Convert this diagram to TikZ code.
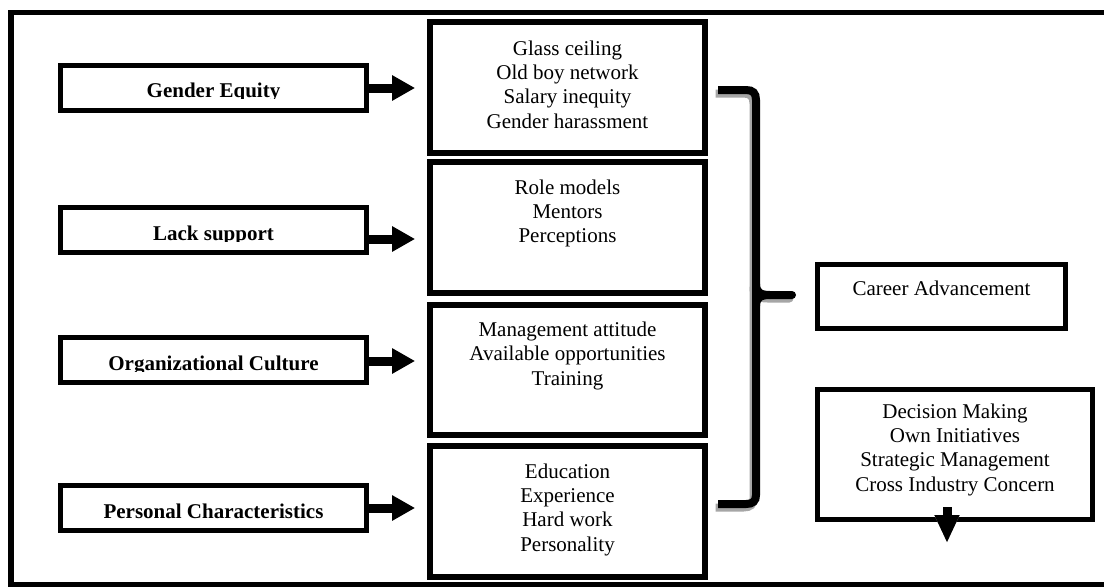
\documentclass[tikz,border=0pt]{standalone}
\usepackage{fontspec}
\setmainfont{Liberation Serif}
\usetikzlibrary{arrows.meta,calc}
\begin{document}
\begin{tikzpicture}[x=1pt,y=-1pt,
  lbox/.style={draw, line width=5pt, minimum width=306pt, minimum height=45pt, inner sep=0pt},
  mbox/.style={draw, line width=6pt, minimum width=275pt, minimum height=131pt, inner sep=0pt},
  rbox/.style={draw, line width=5pt, inner sep=0pt},
  btxt/.style={font=\fontsize{21}{24.3}\selectfont\bfseries, inner sep=0pt, anchor=base},
  txt/.style={font=\fontsize{21}{24.3}\selectfont, inner sep=0pt, anchor=base, align=center},
  arr/.style={-{Triangle[length=23pt,width=24pt]}, line width=9pt, shorten >=12pt},
  arrsh/.style={arr, draw=black!35, yshift=-3.5pt},
  darr/.style={-{Triangle[length=28pt,width=23pt]}, line width=9pt},
  darrsh/.style={darr, draw=black!35, xshift=-2pt, yshift=-3pt},
  brace/.style={line width=8pt},
  bracesh/.style={brace, draw=black!35, xshift=-2.5pt, yshift=-3.5pt},
]
\useasboundingbox (0,0) rectangle (1104,587);
% outer frame
\draw[line width=5.5pt] (1112,12.5) -- (11,12.5) -- (11,584.5) -- (1112,584.5);

% left boxes
\node[lbox] (ge) at (213.5,88) {};
\node[lbox] (ls) at (213.5,229.5) {};
\node[lbox] (oc) at (213.5,359.5) {};
\node[lbox] (pc) at (213.5,508) {};
\begin{scope}
  \clip (63,68) rectangle (364,98.5);
  \node[btxt] (get) at (213.5,97) {Gender Equity};
\end{scope}
\begin{scope}
  \clip (63,210) rectangle (364,241.5);
  \node[btxt] (lst) at (213.5,240) {Lack support};
\end{scope}
\begin{scope}
  \clip (63,340) rectangle (364,371.5);
  \node[btxt] (oct) at (213.5,370) {Organizational Culture};
\end{scope}
\node[btxt] (pct) at (213.5,518) {Personal Characteristics};

% middle boxes (text nodes anchored at the baseline of their last line)
\node[mbox] (m1) at (567.5,87.5) {};
\node[txt] (m1t) at (567.5,128) {Glass ceiling\\Old boy network\\Salary inequity\\Gender harassment};
\node[mbox] (m2) at (567.5,227.5) {};
\node[txt] (m2t) at (567.5,242.6) {Role models\\Mentors\\Perceptions};
\node[mbox, minimum height=130pt] (m3) at (567.5,370) {};
\node[txt] (m3t) at (567.5,385) {Management attitude\\Available opportunities\\Training};
\node[mbox] (m4) at (567.5,511.5) {};
\node[txt] (m4t) at (567.5,551) {Education\\Experience\\Hard work\\Personality};

% right boxes
\node[rbox, minimum width=248pt, minimum height=64pt] (ca) at (941.5,296.5) {};
\node[txt] (cat) at (941.5,295) {Career Advancement};
\node[rbox, minimum width=275pt, minimum height=130pt] (dm) at (955,454.5) {};
\node[txt] (dmt) at (955,491) {Decision Making\\Own Initiatives\\Strategic Management\\Cross Industry Concern};

% arrows left -> middle
\draw[arrsh] (ge.east) -- (ge.east -| m1.west);
\draw[arr] (ge.east) -- (ge.east -| m1.west);
\draw[arrsh] ($(ls.east)+(0,9.5)$) -- ($(ls.east -| m2.west)+(0,9.5)$);
\draw[arr] ($(ls.east)+(0,9.5)$) -- ($(ls.east -| m2.west)+(0,9.5)$);
\draw[arrsh] ($(oc.east)+(0,1.5)$) -- ($(oc.east -| m3.west)+(0,1.5)$);
\draw[arr] ($(oc.east)+(0,1.5)$) -- ($(oc.east -| m3.west)+(0,1.5)$);
\draw[arrsh] (pc.east) -- (pc.east -| m4.west);
\draw[arr] (pc.east) -- (pc.east -| m4.west);

% down arrow
\coordinate (dtip) at (947,543);
\draw[darrsh] ($(dm.south)+(-8,-15)$) -- (dtip);
\draw[darr] ($(dm.south)+(-8,-15)$) -- (dtip);

% brace (shadow, then black)
\draw[bracesh] (718,90) -- (746,90) .. controls (753,90) and (756,93) .. (756,100) -- (756,495) .. controls (756,501) and (753,504) .. (746,504) -- (718,504);
\draw[bracesh, line cap=round] (756,284) .. controls (756,292) and (760,295) .. (770,295) -- (792,295);
\draw[brace] (718,90) -- (746,90) .. controls (753,90) and (756,93) .. (756,100) -- (756,495) .. controls (756,501) and (753,504) .. (746,504) -- (718,504);
\draw[brace, line cap=round] (756,284) .. controls (756,292) and (760,295) .. (770,295) -- (792,295);
\draw[brace] (756,306) .. controls (756,298) and (760,295) .. (770,295);
\end{tikzpicture}
\end{document}
